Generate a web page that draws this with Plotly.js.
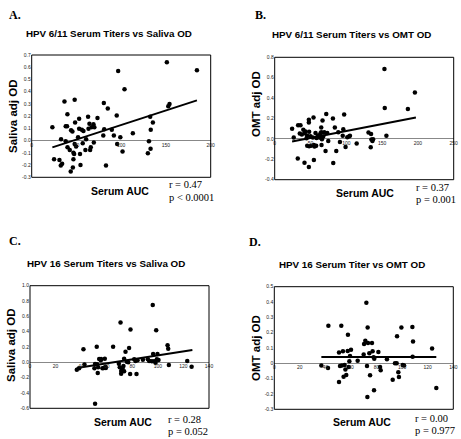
<!DOCTYPE html>
<html><head><meta charset="utf-8">
<script src="https://cdn.plot.ly/plotly-3.0.1.min.js"></script>
<style>html,body{margin:0;padding:0;background:#fff}</style>
</head><body><div id="chart" style="width:461px;height:439px"></div>
<script>
// ---------- Panel A: HPV 6/11 serum vs saliva ----------
const aX = [23.1,25,31,32.5,34,32.8,36.6,38,39.5,39.9,38,40,42.5,43.6,44,45.5,46,46.6,46.6,47.4,48,48.5,48,49.6,51.8,53,53,54,54.5,56,57,57.8,60,60.8,63,63.5,64.5,65.3,66,66.8,69,69.4,70,73.5,80.6,80,81,83,85,89.5,91.8,95,95.5,96.6,99,101.5,103.7,113,129.8,131,132.4,132.8,133,135.4,151,152.6,154,184.6];
const aY = [0.11,-0.153,-0.159,-0.203,-0.19,0.011,0.32,0.118,0.118,0.216,-0.005,-0.055,-0.077,-0.252,0.085,0.074,-0.219,-0.153,-0.099,-0.11,0.334,0.148,-0.027,-0.049,0.027,0.178,0.096,-0.11,-0.2,0.088,-0.022,0.079,-0.077,0.011,0.195,0.096,0.137,-0.077,-0.055,0.11,0.134,-0.016,0.11,0.184,0.307,0.041,0.093,-0.203,0.263,0.088,0.041,0.205,-0.027,0.57,0.027,-0.09,0.419,0.06,-0.104,-0.005,0.195,-0.066,0.088,0.148,0.641,0.28,0.299,0.575];
const aFitX = [23.1, 184.6];
const aFitY = [-0.055, 0.329];

// ---------- Panel B: HPV 6/11 serum vs OMT ----------
const bX = [24.3,26.6,32.2,32.7,36,35,37.9,40,41.6,41.6,43,44.4,45.3,45.4,47.7,47.7,47.7,48.1,48.1,50,50.9,53.3,54.2,54.7,54.7,55.6,57,58.4,57.9,60.3,62.6,64,65,65.4,65,66,66.8,67.8,69.2,71,72,73.4,74.8,81.3,81.8,84,86,88.8,91.1,95,95.8,97,99,101.4,103.7,105.1,114.5,131,134.1,134.6,135.1,136.5,137.4,153.3,153.7,156,186,195.8];
const bY = [0.10,0.013,-0.193,0.134,0.134,0.052,0.043,0.089,-0.233,0.056,0.072,0.007,0.03,-0.066,-0.275,0.161,0.187,0.069,-0.072,0.026,-0.066,0.013,0.21,-0.207,-0.059,-0.075,0.059,0.01,-0.066,0.033,0.013,0.056,0.111,-0.059,0.066,-0.003,0.18,0.023,0.066,-0.118,0.243,0.059,-0.02,0.2,-0.236,0.111,-0.118,0.066,-0.03,0.03,0.095,0.24,-0.079,0.016,0.023,0.03,-0.046,0.062,-0.082,0.049,-0.007,-0.02,-0.003,0.685,0.302,0.03,0.292,0.456];
const bFitX = [24.3, 197.2];
const bFitY = [-0.026, 0.21];

// ---------- Panel C: HPV 16 serum vs saliva ----------
const cX = [36.6,38.4,41.8,42.6,50.4,50.9,52.2,52.5,53,53.3,54.1,55.4,55.6,56.7,57.7,58.5,59,59.3,50.9,65,69.5,70.2,70.8,71.3,71.3,72.3,73.1,73.6,73.6,74.7,75.7,76.8,77.5,78.6,78.3,81.5,82.5,83.3,84.1,88.3,92.2,93.2,95.3,96,96.3,97.1,98.2,98.7,99.2,99.7,100.5,107.6,108.1,108.6,123,126.4];
const cY = [-0.096,-0.078,0.17,-0.03,-0.078,-0.022,0.204,-0.026,-0.139,-0.065,0.043,0.026,0.043,-0.078,-0.074,0.048,-0.057,-0.074,-0.539,0.204,-0.017,-0.065,0.52,-0.113,-0.148,-0.078,-0.048,-0.117,0.048,0.139,0.009,0,0.187,0.43,-0.152,0.039,0.017,-0.152,0.026,0.035,0.039,0.017,0.013,0.748,0.109,0.013,-0.004,0.417,0.039,0.109,0.03,0.222,0.178,-0.035,0.017,-0.057];
const cFitX = [36.6, 127];
const cFitY = [-0.074, 0.16];

// ---------- Panel D: HPV 16 serum vs OMT ----------
const dX = [36.8,42,42.3,50.6,50.6,51.4,52.4,52.9,53.7,54.2,55,55.6,56.3,57.4,57.6,58.2,58.7,59.2,60,65.2,70.2,69.9,71.2,72,72.5,72.8,73,73.3,74.3,74.9,76.4,76.9,77.7,78.2,78,81.4,82.7,83.2,88.1,92.6,94.4,95.7,96,97,97.5,99.4,100.4,101.5,108,108.5,108.2,123.4,126.7];
const dY = [-0.015,-0.03,0.246,0.07,-0.122,-0.017,0.246,-0.015,0.078,-0.087,-0.011,-0.041,-0.076,0.08,0.187,-0.024,0.013,0.048,0.089,0.017,0.126,0.057,0.148,0.396,-0.017,-0.22,0.233,0.133,0.065,-0.078,0.133,0.078,0.039,0.03,-0.176,0.074,-0.024,-0.046,0.026,-0.107,0,0,0.176,-0.059,-0.089,0.233,-0.011,-0.015,0.237,0.143,0.043,0.096,-0.161];
const dFitX = [36.8, 126.7];
const dFitY = [0.042, 0.042];

// ---------- Tick labels ----------
const aXTicks = [0,50,100,150,200];
const aYTicks = [0.7,0.6,0.5,0.4,0.3,0.2,0.1,0,-0.1,-0.2,-0.3];
const aYText  = ['0.7','0.6','0.5','0.4','0.3','0.2','0.1','0.0','-0.1','-0.2','-0.3'];
const bXTicks = [0,50,100,150,200,250];
const bYTicks = [0.8,0.6,0.4,0.2,0,-0.2,-0.4];
const bYText  = ['0.8','0.6','0.4','0.2','0.0','-0.2','-0.4'];
const cXTicks = [0,20,40,60,80,100,120,140];
const cYTicks = [1.0,0.8,0.6,0.4,0.2,0,-0.2,-0.4,-0.6];
const cYText  = ['1.0','0.8','0.6','0.4','0.2','0.0','-0.2','-0.4','-0.6'];
const dXTicks = [0,20,40,60,80,100,120,140];
const dYTicks = [0.5,0.4,0.3,0.2,0.1,0,-0.1,-0.2,-0.3];
const dYText  = ['0.5','0.4','0.3','0.2','0.1','0','-0.1','-0.2','-0.3'];

const titles = ['HPV 6/11 Serum Titers vs Saliva OD','HPV 6/11 Serum Titers vs OMT OD','HPV 16 Serum Titers vs Saliva OD','HPV 16 Serum Titer vs OMT OD'];
const letters = ['A.','B.','C.','D.'];
const yTitles = ['Saliva adj OD','OMT adj OD','Saliva adj OD','OMT adj OD'];
const rTexts = ['r = 0.47','r = 0.37','r = 0.28','r = 0.00'];
const pTexts = ['p < 0.0001','p = 0.001','p = 0.052','p = 0.977'];

// ---------- Layout geometry (pixels) ----------
const W = 461, H = 439;
const panels = [
  {px:[31.7,210.7], py:[55,177.3], xr:[0,200], yr:[-0.3,0.7], X:aX, Y:aY, FX:aFitX, FY:aFitY, xt:aXTicks, yt:aYTicks, ytt:aYText,
   letter:[7,6], title:[109,33], ytitle:[13,116], sx:[120,191], r:[168,184], p:[168,197]},
  {px:[274.7,453.7], py:[57.3,179.7], xr:[0,250], yr:[-0.4,0.8], X:bX, Y:bY, FX:bFitX, FY:bFitY, xt:bXTicks, yt:bYTicks, ytt:bYText,
   letter:[253,6], title:[351,34], ytitle:[256,104], sx:[365,193], r:[415,187], p:[415,199]},
  {px:[30,209], py:[285.7,408.3], xr:[0,140], yr:[-0.6,1.0], X:cX, Y:cY, FX:cFitX, FY:cFitY, xt:cXTicks, yt:cYTicks, ytt:cYText,
   letter:[7,232], title:[106,263], ytitle:[11,345], sx:[123,422], r:[167,419.5], p:[167,431]},
  {px:[274.3,453.3], py:[286.7,409.3], xr:[0,140], yr:[-0.3,0.5], X:dX, Y:dY, FX:dFitX, FY:dFitY, xt:dXTicks, yt:dYTicks, ytt:dYText,
   letter:[247,233], title:[352,264], ytitle:[256,348], sx:[362,422], r:[414,418.5], p:[414,430.5]}
];

const fx = v => v / W;
const fy = v => 1 - v / H;
const data = [];
const layout = {
  width: W, height: H,
  margin: {l:0, r:0, t:0, b:0},
  paper_bgcolor: '#fff', plot_bgcolor: '#fff',
  showlegend: false,
  font: {family: 'Liberation Sans, Arial, sans-serif', color: '#000'},
  shapes: [], annotations: []
};
const sans = 'Liberation Sans, Arial, sans-serif';
const serif = 'Liberation Serif, Times New Roman, serif';

panels.forEach((p, i) => {
  const n = i === 0 ? '' : String(i + 1);
  const xa = 'xaxis' + n, ya = 'yaxis' + n;
  const xd = [fx(p.px[0]), fx(p.px[1])];
  const yd = [fy(p.py[1]), fy(p.py[0])];
  const zeroPos = yd[0] + (0 - p.yr[0]) / (p.yr[1] - p.yr[0]) * (yd[1] - yd[0]);
  layout[xa] = {domain: xd, range: p.xr, anchor: 'free', position: zeroPos,
    showgrid: false, zeroline: false, showline: false, ticks: '',
    tickvals: p.xt, ticktext: p.xt.map(String), tickfont: {size: 5, family: sans, color: '#222'},
    fixedrange: true};
  layout[ya] = {domain: yd, range: p.yr, anchor: 'x' + n,
    showgrid: false, zeroline: true, zerolinecolor: '#888', zerolinewidth: 1, showline: false, ticks: '',
    tickvals: p.yt, ticktext: p.ytt, tickfont: {size: 5, family: sans, color: '#222'},
    fixedrange: true};
  layout.shapes.push({type: 'rect', xref: 'x' + n + ' domain', yref: 'y' + n + ' domain',
    x0: 0, x1: 1, y0: 0, y1: 1, line: {color: '#000', width: 1}});
  data.push({type: 'scatter', mode: 'markers', x: p.X, y: p.Y, xaxis: 'x' + n, yaxis: 'y' + n,
    marker: {color: '#000', size: 4.5}, cliponaxis: false});
  data.push({type: 'scatter', mode: 'lines', x: p.FX, y: p.FY, xaxis: 'x' + n, yaxis: 'y' + n,
    line: {color: '#000', width: 2}});
  const A = (t, x, y, opt) => layout.annotations.push(Object.assign({text: t, xref: 'paper', yref: 'paper',
    x: fx(x), y: fy(y), showarrow: false}, opt));
  A(letters[i], p.letter[0], p.letter[1], {xanchor: 'left', yanchor: 'top', font: {family: serif, size: 12, color: '#000', weight: 'bold'}});
  A('<b>' + titles[i] + '</b>', p.title[0], p.title[1], {xanchor: 'center', yanchor: 'middle', font: {family: sans, size: 9.8, color: '#000'}});
  A('<b>' + yTitles[i] + '</b>', p.ytitle[0], p.ytitle[1], {xanchor: 'center', yanchor: 'middle', textangle: -90, font: {family: sans, size: 11.5, color: '#000'}});
  A('<b>Serum AUC</b>', p.sx[0], p.sx[1], {xanchor: 'center', yanchor: 'middle', font: {family: sans, size: 10.5, color: '#000'}});
  A(rTexts[i], p.r[0], p.r[1], {xanchor: 'left', yanchor: 'middle', borderpad: 0, font: {family: serif, size: 10.5, color: '#000'}});
  A(pTexts[i], p.p[0], p.p[1], {xanchor: 'left', yanchor: 'middle', borderpad: 0, font: {family: serif, size: 10.5, color: '#000'}});
});

Plotly.newPlot('chart', data, layout, {staticPlot: true, displayModeBar: false});
</script>
</body></html>
